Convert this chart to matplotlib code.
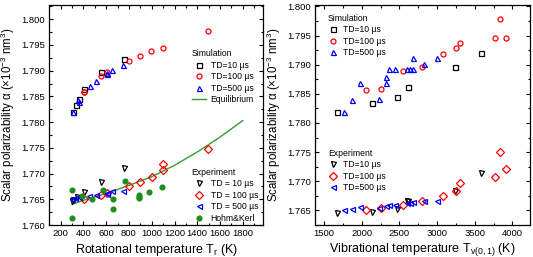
import numpy as np
import matplotlib
matplotlib.use('Agg')
import matplotlib.pyplot as plt
from matplotlib.ticker import MultipleLocator, FormatStrFormatter

plt.rcParams['font.family'] = ['Liberation Sans', 'DejaVu Sans']
plt.rcParams['mathtext.fontset'] = 'custom'
plt.rcParams['mathtext.rm'] = 'Liberation Sans'
plt.rcParams['mathtext.it'] = 'Liberation Sans:italic'
plt.rcParams['mathtext.default'] = 'regular'

# ---- left panel: rotational temperature ----
# simulation
rot_sim10_T = [308, 337, 360, 404, 550, 755]
rot_sim10_a = [1.7820, 1.7833, 1.7845, 1.7864, 1.7898, 1.7922]
rot_sim100_T = [404, 404, 550, 603, 804, 900, 997, 1096, 1493]
rot_sim100_a = [1.7858, 1.7859, 1.7890, 1.7897, 1.7918, 1.7929, 1.7938, 1.7945, 1.7978]
rot_sim500_T = [308, 355, 360, 457, 507, 603, 603, 655, 749]
rot_sim500_a = [1.7820, 1.7843, 1.7840, 1.7870, 1.7880, 1.7896, 1.7893, 1.7902, 1.7912]
# equilibrium curve
eq_T = [300, 400, 600, 800, 1000, 1200, 1400, 1600, 1800]
eq_a = [1.7640, 1.7648, 1.7661, 1.7677, 1.7694, 1.7716, 1.7742, 1.7771, 1.7803]
# experiment
rot_exp10_T = [300, 310, 340, 404, 550, 755]
rot_exp10_a = [1.7647, 1.7649, 1.7654, 1.7665, 1.7684, 1.7711]
rot_exp100_T = [404, 550, 603, 804, 900, 1003, 1096, 1096, 1493]
rot_exp100_a = [1.7651, 1.7659, 1.7663, 1.7675, 1.7684, 1.7694, 1.7707, 1.7719, 1.7747]
rot_exp500_T = [302, 330, 360, 448, 507, 603, 603, 655, 749]
rot_exp500_a = [1.7651, 1.7652, 1.7654, 1.7656, 1.7658, 1.7662, 1.7660, 1.7667, 1.7666]
hk_T = [302, 302, 390, 477, 574, 661, 661, 769, 886, 886, 886, 980, 1090]
hk_a = [1.7669, 1.7613, 1.7657, 1.7651, 1.7669, 1.7650, 1.7632, 1.7686, 1.7659, 1.7655, 1.7652, 1.7664, 1.7673]

# ---- right panel: vibrational temperature ----
vib_sim10_T = [1668, 2140, 2463, 2609, 3236, 3580]
vib_sim10_a = [1.7819, 1.7834, 1.7845, 1.7862, 1.7896, 1.7920]
vib_sim100_T = [2057, 2255, 2542, 2794, 3081, 3245, 3302, 3766, 3841, 3920]
vib_sim100_a = [1.7857, 1.7858, 1.7889, 1.7896, 1.7919, 1.7928, 1.7937, 1.7946, 1.7978, 1.7946]
vib_sim500_T = [1765, 1866, 1977, 2229, 2322, 2322, 2361, 2441, 2604, 2640, 2684, 2684, 2825, 2993]
vib_sim500_a = [1.7819, 1.7840, 1.7868, 1.7841, 1.7869, 1.7879, 1.7893, 1.7893, 1.7893, 1.7893,
                1.7893, 1.7912, 1.7901, 1.7912]
vib_exp10_T = [1668, 2132, 2463, 2595, 2620, 3236, 3580]
vib_exp10_a = [1.7645, 1.7648, 1.7653, 1.7666, 1.7666, 1.7684, 1.7715]
vib_exp100_T = [2057, 2255, 2542, 2794, 3081, 3245, 3302, 3766, 3841, 3920]
vib_exp100_a = [1.7651, 1.7654, 1.7660, 1.7666, 1.7674, 1.7684, 1.7697, 1.7708, 1.7750, 1.7721]
vib_exp500_T = [1765, 1866, 1977, 2229, 2322, 2361, 2441, 2604, 2640, 2684, 2825, 2993]
vib_exp500_a = [1.7651, 1.7652, 1.7656, 1.7654, 1.7657, 1.7660, 1.7659, 1.7663, 1.7663, 1.7665,
                1.7666, 1.7666]

green = '#1e8c1e'
ms = 3.6
mew = 0.9

fig = plt.figure(figsize=(5.33, 2.57), dpi=100)
ax1 = fig.add_axes([0.0925, 0.1245, 0.4015, 0.8545])
ax2 = fig.add_axes([0.591, 0.1245, 0.403, 0.8575])

def hollow(ax, x, y, m, c, label):
    return ax.plot(x, y, ls='none', marker=m, ms=ms, mfc='none', mec=c, mew=mew, label=label)[0]

# left
s1 = hollow(ax1, rot_sim10_T, rot_sim10_a, 's', 'black', u'TD=10 \u00b5s')
s2 = hollow(ax1, rot_sim100_T, rot_sim100_a, 'o', 'red', u'TD=100 \u00b5s')
s3 = hollow(ax1, rot_sim500_T, rot_sim500_a, '^', 'blue', u'TD=500 \u00b5s')
eq, = ax1.plot(eq_T, eq_a, color='#2e9e2e', lw=1.0, label='Equilibrium')
e1 = hollow(ax1, rot_exp10_T, rot_exp10_a, 'v', 'black', u'TD = 10 \u00b5s')
e2 = hollow(ax1, rot_exp100_T, rot_exp100_a, 'D', 'red', u'TD = 100 \u00b5s')
e3 = hollow(ax1, rot_exp500_T, rot_exp500_a, '<', 'blue', u'TD = 500 \u00b5s')
hk, = ax1.plot(hk_T, hk_a, ls='none', marker='o', ms=3.4, color=green, label='Hohm&Kerl')

ax1.set_xlim(100, 1980)
ax1.set_ylim(1.760, 1.8027)
ax1.xaxis.set_minor_locator(MultipleLocator(100))
ax1.set_xticks(np.arange(200, 1801, 200))
ax1.set_xlabel('Rotational temperature T$_r$ (K)', fontsize=9, labelpad=3)

# right
r1 = hollow(ax2, vib_sim10_T, vib_sim10_a, 's', 'black', u'TD=10 \u00b5s')
r2 = hollow(ax2, vib_sim100_T, vib_sim100_a, 'o', 'red', u'TD=100 \u00b5s')
r3 = hollow(ax2, vib_sim500_T, vib_sim500_a, '^', 'blue', u'TD=500 \u00b5s')
f1 = hollow(ax2, vib_exp10_T, vib_exp10_a, 'v', 'black', u'TD=10 \u00b5s')
f2 = hollow(ax2, vib_exp100_T, vib_exp100_a, 'D', 'red', u'TD=100 \u00b5s')
f3 = hollow(ax2, vib_exp500_T, vib_exp500_a, '<', 'blue', u'TD=500 \u00b5s')

ax2.set_xlim(1380, 4230)
ax2.set_ylim(1.7625, 1.8003)
ax2.xaxis.set_minor_locator(MultipleLocator(250))
ax2.set_xticks(np.arange(1500, 4001, 500))
ax2.set_xlabel('Vibrational temperature T$_{v(0,1)}$ (K)', fontsize=9, labelpad=2)

for ax in (ax1, ax2):
    ax.yaxis.set_major_locator(MultipleLocator(0.005))
    ax.yaxis.set_minor_locator(MultipleLocator(0.0025))
    ax.yaxis.set_major_formatter(FormatStrFormatter('%.3f'))
    ax.tick_params(which='both', direction='in', top=True, right=True, labelsize=6.8, pad=3)
    ax.tick_params(which='major', length=3, width=0.8)
    ax.tick_params(which='minor', length=1.8, width=0.8)
    for sp in ax.spines.values():
        sp.set_linewidth(0.9)
    ax.set_ylabel(u'Scalar polarizability \u03b1 (\u00d710$^{-3}$ nm$^3$)', fontsize=8.3, labelpad=3)

leg_kw = dict(frameon=False, fontsize=6.2, title_fontsize=6.2, alignment='left',
              borderpad=0, labelspacing=0.28, handletextpad=0.5, borderaxespad=0)

l1 = ax1.legend(handles=[s1, s2, s3, eq], title='Simulation', loc='upper left',
                bbox_to_anchor=(0.665, 0.80), handlelength=1.7, **leg_kw)
ax1.add_artist(l1)
ax1.legend(handles=[e1, e2, e3, hk], title='Experiment', loc='upper left',
           bbox_to_anchor=(0.665, 0.26), handlelength=1.7, **leg_kw)

l2 = ax2.legend(handles=[r1, r2, r3], title='Simulation', loc='upper left',
                bbox_to_anchor=(0.06, 0.958), handlelength=1.2, **leg_kw)
ax2.add_artist(l2)
ax2.legend(handles=[f1, f2, f3], title='Experiment', loc='upper left',
           bbox_to_anchor=(0.06, 0.345), handlelength=1.2, **leg_kw)

fig.savefig('out.png', dpi=100)
